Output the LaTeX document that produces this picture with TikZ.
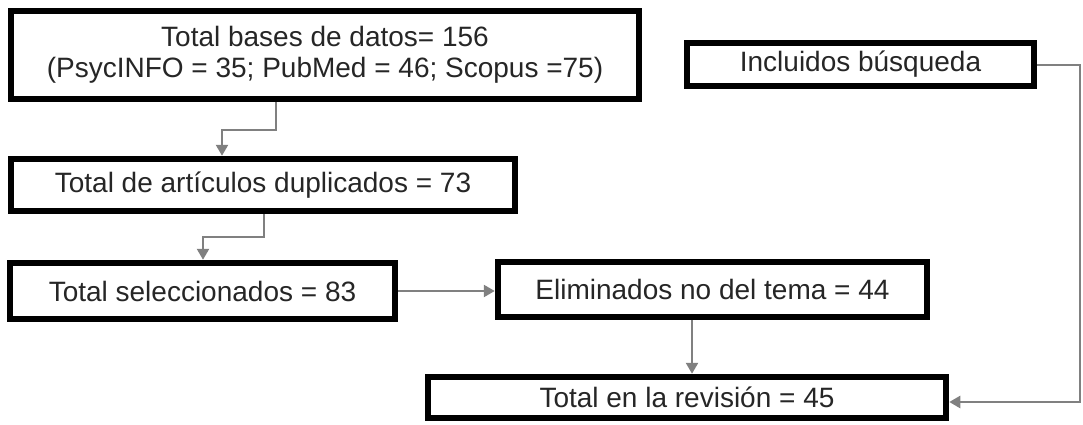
\documentclass[tikz,border=0pt]{standalone}
\usepackage{fontspec}
\setmainfont{Liberation Sans}
\usetikzlibrary{arrows.meta}
\tikzset{
  box/.style={draw=black, line width=6.5pt, fill=white, inner sep=0pt, align=center,
    text=black!85, font=\fontsize{28}{31}\selectfont},
  conn/.style={draw=black!50, line width=2.5pt,
    -{Triangle[length=11pt,width=12pt]}},
}
\begin{document}
\begin{tikzpicture}[x=1pt,y=-1pt]
\useasboundingbox (0,0) rectangle (1083,425);
\node[box, minimum width=628pt, minimum height=88pt] (db) at (325,55)
  {Total bases de datos= 156\\(PsycINFO = 35; PubMed = 46; Scopus =75)};
\node[box, minimum width=504pt, minimum height=52pt] (dup) at (263,185)
  {Total de artículos duplicados = 73};
\node[box, minimum width=385pt, minimum height=56pt] (sel) at (202.5,291)
  {Total seleccionados = 83};
\node[box, minimum width=429pt, minimum height=55pt] (elim) at (712.5,289.5)
  {Eliminados no del tema = 44};
\node[box, minimum width=518pt, minimum height=41pt] (rev) at (687,397.5)
  {Total en la revisión = 45};
\node[box, minimum width=347pt, minimum height=43pt] (inc) at (860.5,64.5)
  {Incluidos búsqueda};
\coordinate (c1) at (1080,65);
\draw[conn] (db.south -| 276,0) |- (222,130) -- (dup.north -| 222,0);
\draw[conn] (dup.south -| 264,0) |- (203,237) -- (sel.north -| 203,0);
\draw[conn] (sel.east) -- (elim.west |- sel.east);
\draw[conn] (elim.south -| 692,0) -- (rev.north -| 692,0);
\draw[conn] (inc.east |- c1) -- (c1) |- (rev.east |- 0,402);
\end{tikzpicture}
\end{document}
